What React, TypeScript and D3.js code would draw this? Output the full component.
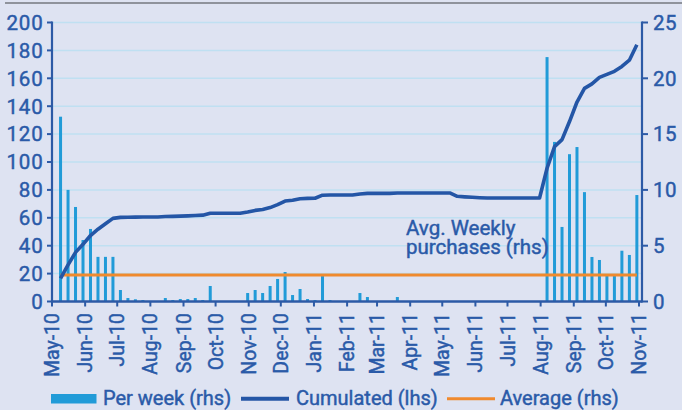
import React from "react";
import * as d3 from "d3";

const W = 682;
const H = 410;

// Weekly purchases (rhs), one value per week starting 9 May 2010
const perWeek: number[] = [
  16.56, 10.0, 8.47, 5.51, 6.5, 4.0, 4.0, 4.0, 1.03, 0.31,
  0.2, 0.13, 0, 0, 0.31, 0.13, 0.22, 0.22, 0.31, 0.13,
  1.39, 0, 0, 0, 0, 0.76, 1.03, 0.76, 1.39, 2.02,
  2.64, 0.58, 1.12, 0.22, 0.13, 2.28, 0.13, 0, 0, 0,
  0.76, 0.4, 0, 0, 0, 0.4, 0, 0, 0, 0,
  0, 0, 0, 0, 0, 0, 0, 0, 0, 0,
  0, 0, 0, 0, 0, 21.9, 14.3, 6.68, 13.2, 13.84,
  9.8, 3.99, 3.72, 2.4, 2.3, 4.55, 4.17, 9.54,
];

// Cumulated purchases (lhs)
const cumulated: number[] = [
  16.5, 26.3, 35.2, 41.0, 47.3, 51.8, 55.7, 59.6, 60.3, 60.4,
  60.5, 60.6, 60.6, 60.6, 60.9, 61.0, 61.2, 61.4, 61.7, 61.9,
  63.3, 63.3, 63.3, 63.3, 63.3, 64.2, 65.3, 65.9, 67.3, 69.4,
  72.0, 72.6, 73.7, 73.9, 74.0, 76.2, 76.3, 76.3, 76.3, 76.3,
  77.1, 77.5, 77.5, 77.5, 77.5, 77.8, 77.8, 77.8, 77.8, 77.8,
  77.8, 77.8, 77.8, 75.4, 75.0, 74.7, 74.4, 74.2, 74.2, 74.2,
  74.2, 74.2, 74.2, 74.2, 74.2, 95.5, 111.0, 116.0, 129.0, 143.0,
  152.8, 156.0, 160.7, 162.8, 165.0, 168.5, 173.0, 184.0,
];

const averageWeekly = 2.37;

const leftTicks: number[] = [0, 20, 40, 60, 80, 100, 120, 140, 160, 180, 200];
const rightTicks: number[] = [0, 5, 10, 15, 20, 25];
const monthLabels: string[] = [
  "May-10", "Jun-10", "Jul-10", "Aug-10", "Sep-10", "Oct-10", "Nov-10", "Dec-10",
  "Jan-11", "Feb-11", "Mar-11", "Apr-11", "May-11", "Jun-11", "Jul-11", "Aug-11",
  "Sep-11", "Oct-11", "Nov-11",
];

const C = {
  bg: "#dee3f2",
  bar: "#219bd8",
  line: "#2456a6",
  axis: "#2c5aa6",
  text: "#2a5aa8",
  orange: "#f08a2e",
  grid: "#bfe0f2",
  rule: "#8f939c",
};

const FONT = "Roboto, 'Noto Sans', sans-serif";
const thick = { stroke: C.text, strokeWidth: 0.45, paintOrder: "stroke" } as React.CSSProperties;

export default function App() {
  const left = 52;
  const right = 642;
  const top = 22.5;
  const bottom = 301.5;

  const startMonth = new Date(2010, 4, 1);
  const endMonth = new Date(2011, 10, 1);
  const x = d3.scaleTime().domain([startMonth, endMonth]).range([left, 639]);
  const yL = d3.scaleLinear().domain([0, 200]).range([bottom, top]);
  const yR = d3.scaleLinear().domain([0, 25]).range([bottom, top]);

  const weeks = d3.timeWeek.range(new Date(2010, 4, 9), new Date(2011, 10, 1)).slice(0, perWeek.length);
  const months = d3.timeMonth.range(startMonth, d3.timeDay.offset(endMonth, 1));

  const lineGen = d3
    .line<number>()
    .x((_, i) => x(weeks[i]))
    .y((d) => yL(d));

  const barW = 3;

  return (
    <svg
      width={W}
      height={H}
      style={{ position: "absolute", left: 0, top: 0, background: C.bg }}
      fontFamily={FONT}
    >
      <rect x={0} y={0} width={W} height={H} fill={C.bg} />
      <line x1={5} x2={W} y1={3} y2={3} stroke={C.rule} strokeWidth={2.2} />

      {/* gridlines */}
      {leftTicks
        .filter((t) => t > 0)
        .map((t) => (
          <line key={"g" + t} x1={left} x2={right} y1={yL(t)} y2={yL(t)} stroke={C.grid} strokeWidth={1.5} />
        ))}

      {/* bars */}
      {perWeek.map((v, i) =>
        v > 0 ? (
          <rect
            key={"b" + i}
            x={x(weeks[i]) - barW / 2}
            y={yR(v)}
            width={barW}
            height={bottom - yR(v)}
            fill={C.bar}
          />
        ) : null
      )}

      {/* average */}
      <line
        x1={x(weeks[0])}
        x2={x(weeks[weeks.length - 1])}
        y1={yR(averageWeekly)}
        y2={yR(averageWeekly)}
        stroke={C.orange}
        strokeWidth={3}
      />

      {/* cumulated */}
      <path d={lineGen(cumulated) || ""} fill="none" stroke={C.line} strokeWidth={3.6} strokeLinejoin="round" />

      {/* axes */}
      <line x1={left} x2={left} y1={top - 1} y2={bottom + 1} stroke={C.axis} strokeWidth={2.2} />
      <line x1={right} x2={right} y1={top - 1} y2={bottom + 1} stroke={C.axis} strokeWidth={2.2} />
      <line x1={left} x2={right} y1={bottom} y2={bottom} stroke={C.axis} strokeWidth={2.5} />

      {leftTicks.map((t) => (
        <g key={"l" + t}>
          <line x1={left - 5} x2={left} y1={yL(t)} y2={yL(t)} stroke={C.axis} strokeWidth={2} />
          <text x={43.5} y={yL(t)} dy="0.36em" textAnchor="end" fontSize={20.5} letterSpacing={0.8} fill={C.text} style={thick}>
            {t}
          </text>
        </g>
      ))}
      {rightTicks.map((t) => (
        <g key={"r" + t}>
          <line x1={right} x2={right + 6} y1={yR(t)} y2={yR(t)} stroke={C.axis} strokeWidth={2} />
          <text x={653} y={yR(t)} dy="0.36em" textAnchor="start" fontSize={20.5} letterSpacing={0.4} fill={C.text} style={thick}>
            {t}
          </text>
        </g>
      ))}
      {months.map((m, i) => (
        <g key={"m" + i}>
          <line x1={x(m)} x2={x(m)} y1={bottom} y2={bottom + 5} stroke={C.axis} strokeWidth={2} />
          <text
            transform={`translate(${x(m)},${313}) rotate(-90)`}
            textAnchor="end"
            dy="0.36em"
            fontSize={19.5}
            fill={C.text}
            style={thick}
          >
            {monthLabels[i]}
          </text>
        </g>
      ))}

      {/* annotation */}
      <text x={406} y={235} fontSize={20.5} fill={C.text} style={thick}>
        <tspan x={406} y={235}>Avg. Weekly</tspan>
        <tspan x={406} y={253.5}>purchases (rhs)</tspan>
      </text>

      {/* legend */}
      <rect x={51} y={394} width={45.5} height={9.5} fill={C.bar} />
      <text x={103} y={405} fontSize={20} fill={C.text} style={thick}>
        Per week (rhs)
      </text>
      <line x1={241} x2={289} y1={398.7} y2={398.7} stroke={C.line} strokeWidth={4} />
      <text x={296} y={405} fontSize={20} fill={C.text} style={thick}>
        Cumulated (lhs)
      </text>
      <line x1={447} x2={495} y1={398.7} y2={398.7} stroke={C.orange} strokeWidth={3} />
      <text x={500} y={405} fontSize={20} fill={C.text} style={thick}>
        Average (rhs)
      </text>
    </svg>
  );
}
